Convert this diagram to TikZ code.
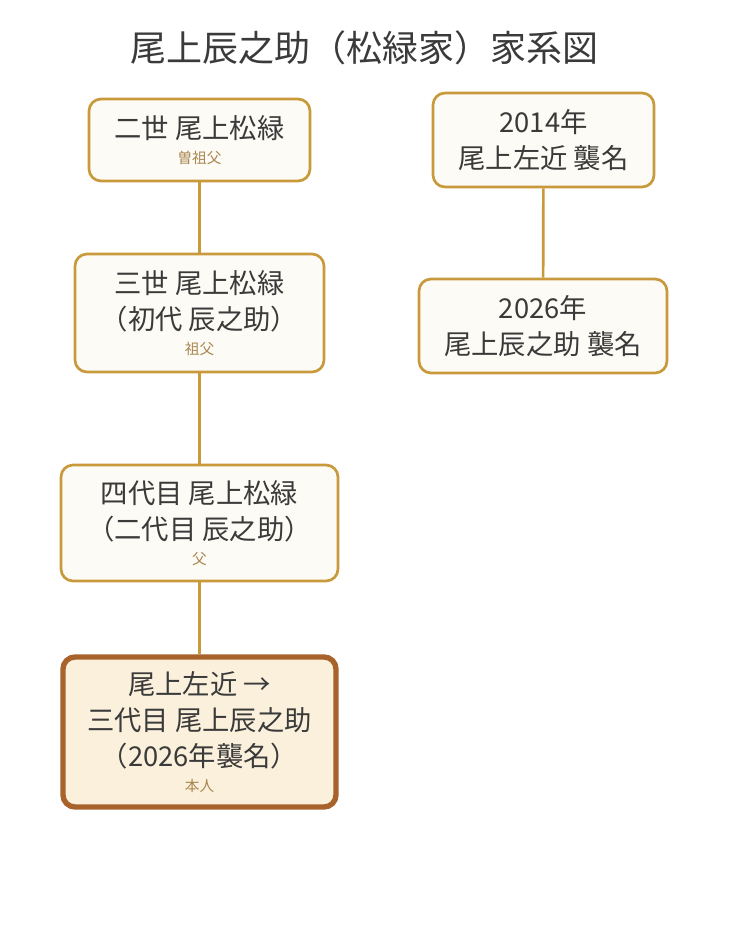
\documentclass[tikz,border=0pt]{standalone}
\usepackage{fontspec}
\setmainfont{Noto Sans CJK JP}
\usetikzlibrary{positioning}
\definecolor{gold}{HTML}{C99A3C}
\definecolor{paper}{HTML}{FDFBF5}
\definecolor{selfline}{HTML}{A8632C}
\definecolor{selffill}{HTML}{FAF0DC}
\definecolor{ink}{HTML}{3A3A3A}
\definecolor{note}{HTML}{A88650}
\tikzset{line width=1.0pt}
\tikzset{person/.style={draw=gold,line width=2pt,fill=paper,rounded corners=9pt,align=center,text=ink,font=\fontsize{20.5}{27}\selectfont,inner sep=0pt},
  self/.style={person,draw=selfline,line width=4pt,fill=selffill},
  link/.style={draw=gold,line width=2pt}}
\newcommand{\rel}[1]{\\[-8pt]{\color{note}\fontsize{11}{12}\selectfont #1}}

\begin{document}
\begin{tikzpicture}[x=0.75pt,y=-0.75pt]
  \useasboundingbox (0,0) rectangle (728,949);

  % title
  \node[text=ink,font=\fontsize{27}{32}\selectfont] (title) at (364,48) {尾上辰之助（松緑家）家系図};

  % main line
  \node[person,minimum width=221*0.75pt,minimum height=82*0.75pt] (g2) at (199.5,140) {二世 尾上松緑\rel{曽祖父}};
  \node[person,minimum width=249*0.75pt,minimum height=118*0.75pt] (g3) at (199.5,313) {三世 尾上松緑\\（初代 辰之助）\rel{祖父}};
  \node[person,minimum width=277*0.75pt,minimum height=116*0.75pt] (g4) at (199.5,523) {四代目 尾上松緑\\（二代目 辰之助）\rel{父}};
  \node[self,minimum width=273*0.75pt,minimum height=150*0.75pt] (me) at (199.5,732) {尾上左近 →\\三代目 尾上辰之助\\（2026年襲名）\rel{本人}};

  % names
  \node[person,minimum width=221*0.75pt,minimum height=94*0.75pt] (y14) at (543.5,140) {2014年\\尾上左近 襲名};
  \node[person,minimum width=248*0.75pt,minimum height=94*0.75pt] (y26) at (543,326) {2026年\\尾上辰之助 襲名};

  \draw[link] (g2) -- (g3);
  \draw[link] (g3) -- (g4);
  \draw[link] (g4) -- (me);
  \draw[link] (y14) -- (y26);
\end{tikzpicture}
\end{document}
